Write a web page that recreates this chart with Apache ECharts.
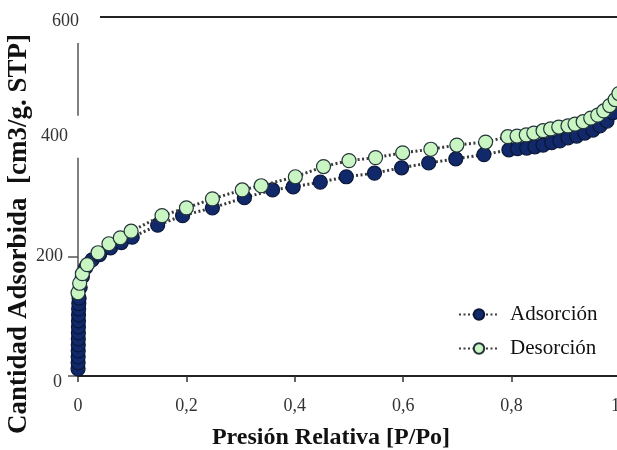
<!DOCTYPE html>
<html>
<head>
<meta charset="utf-8">
<script src="https://cdn.jsdelivr.net/npm/echarts@6/dist/echarts.min.js"></script>
<style>html,body{margin:0;padding:0;background:#fff}#c{width:617px;height:450px}</style>
</head>
<body>
<div id="c"></div>
<script>
// ---- data ----
const seriesNames = ['Adsorción', 'Desorción'];
const adsP = [0.0001,0.0002,0.0003,0.0004,0.0005,0.0006,0.0007,0.0008,0.0009,0.001,0.0012,0.0015,0.002,0.004,0.008,0.014,0.026,0.04,0.06,0.08,0.1,0.147,0.193,0.248,0.307,0.359,0.397,0.447,0.495,0.547,0.597,0.647,0.697,0.749,0.795,0.811,0.828,0.843,0.858,0.874,0.889,0.904,0.92,0.935,0.95,0.963,0.976,0.987,0.997];
const adsV = [12,22,32,42,52,62,72,82,92,102,112,121,130,148,166,181,194,203,214,223,232,252,268,281,298,311,316,324,333,339,348,356,363,370,378,380,381,383,386,390,393,398,401,406,411,418,426,440,465];
const desP = [0.0,0.003,0.008,0.017,0.037,0.057,0.078,0.098,0.155,0.2,0.248,0.303,0.338,0.401,0.453,0.5,0.549,0.599,0.651,0.699,0.752,0.793,0.81,0.827,0.841,0.858,0.872,0.887,0.904,0.917,0.932,0.946,0.959,0.97,0.981,0.991,0.998];
const desV = [139,155,171,186,206,221,231,242,268,281,296,311,318,333,350,360,365,373,379,386,391,400,401,403,406,410,413,416,418,421,425,431,436,443,452,462,472];
const xTicks = { min: 0, max: 1, step: 0.2 };
const yTicks = { min: 0, max: 600, step: 200 };
const xTitle = 'Presión Relativa [P/Po]';
const yTitle = 'Cantidad Adsorbida  [cm3/g. STP]';

const serif = 'Liberation Serif';
const zip = (a, b) => a.map((v, i) => [v, b[i]]);

const chart = echarts.init(document.getElementById('c'), null, { renderer: 'canvas' });
chart.setOption({
  animation: false,
  backgroundColor: '#fff',
  grid: { left: 78, right: -3, top: 17, bottom: 74, containLabel: false, outerBoundsMode: 'none' },
  legend: {
    data: seriesNames,
    orient: 'vertical',
    left: 453, top: 299,
    itemWidth: 40, itemHeight: 13, itemGap: 13,
    textStyle: { fontFamily: serif, fontSize: 21, color: '#111', padding: [0, 0, 0, 6] }
  },
  xAxis: {
    type: 'value', min: xTicks.min, max: xTicks.max, interval: xTicks.step,
    name: xTitle, nameLocation: 'middle', nameGap: 50, nameMoveOverlap: false,
    nameTextStyle: { fontFamily: serif, fontWeight: 'bold', fontSize: 24, color: '#111', padding: [0, 36, 0, 0] },
    axisLine: { lineStyle: { color: '#222', width: 2 } },
    axisTick: { show: true, length: 6, lineStyle: { color: '#333', width: 1.5 } },
    axisLabel: {
      fontFamily: serif, fontSize: 18, color: '#333', margin: 21,
      showMinLabel: true, showMaxLabel: true, hideOverlap: false, alignMaxLabel: 'right',
      formatter: v => String(Math.round(v * 10) / 10).replace('.', ',')
    },
    splitLine: { show: false }
  },
  yAxis: {
    type: 'value', min: yTicks.min, max: yTicks.max, interval: yTicks.step,
    name: yTitle, nameLocation: 'middle', nameGap: 45, nameMoveOverlap: false,
    nameTextStyle: { fontFamily: serif, fontWeight: 'bold', fontSize: 27, color: '#111', padding: [0, 75, 0, 0] },
    axisLine: { show: true, lineStyle: { color: '#555', width: 1.5 } },
    axisTick: { show: true, length: 10, lineStyle: { color: '#555', width: 1.5 } },
    axisLabel: {
      margin: -22, color: '#333', fontFamily: serif, fontSize: 18,
      formatter: v => {
        if (v === 600) return '{t6|600}{w6| }';
        if (v === 400) return '{t4|400}{w4| }';
        if (v === 0) return '{t0|0}{s0| }';
        return '{t|' + v + '}{s| }';
      },
      rich: {
        t: { fontFamily: serif, fontSize: 18, color: '#333' },
        s: { width: 37 },
        t0: { fontFamily: serif, fontSize: 18, color: '#333', padding: [12, 0, 0, 0] },
        s0: { width: 38 },
        t6: { fontFamily: serif, fontSize: 18, color: '#333', backgroundColor: '#fff', height: 44, padding: [8, 0, 0, 4] },
        w6: { width: 21, height: 44, backgroundColor: '#fff' },
        t4: { fontFamily: serif, fontSize: 18, color: '#333', backgroundColor: '#fff', height: 42, padding: [0, 0, 0, 4] },
        w4: { width: 32, height: 42, backgroundColor: '#fff' }
      }
    },
    splitLine: { show: true, lineStyle: { color: ['rgba(0,0,0,0)', 'rgba(0,0,0,0)', 'rgba(0,0,0,0)', '#222'], width: 2 } }
  },
  series: [
    {
      name: seriesNames[0], type: 'line', data: zip(adsP, adsV), clip: false,
      symbol: 'circle', symbolSize: 14, showSymbol: true, showAllSymbol: true,
      lineStyle: { color: '#3a3a3a', width: 3, type: [2, 2.5] },
      itemStyle: { color: '#11296a', borderColor: '#0a1738', borderWidth: 1.2 },
      z: 2
    },
    {
      name: seriesNames[1], type: 'line', data: zip(desP, desV), clip: false,
      symbol: 'circle', symbolSize: 14, showSymbol: true, showAllSymbol: true,
      lineStyle: { color: '#3a3a3a', width: 3, type: [2, 2.5] },
      itemStyle: { color: '#c9f5c2', borderColor: '#24343c', borderWidth: 1.2 },
      z: 3
    }
  ]
});
</script>
</body>
</html>
